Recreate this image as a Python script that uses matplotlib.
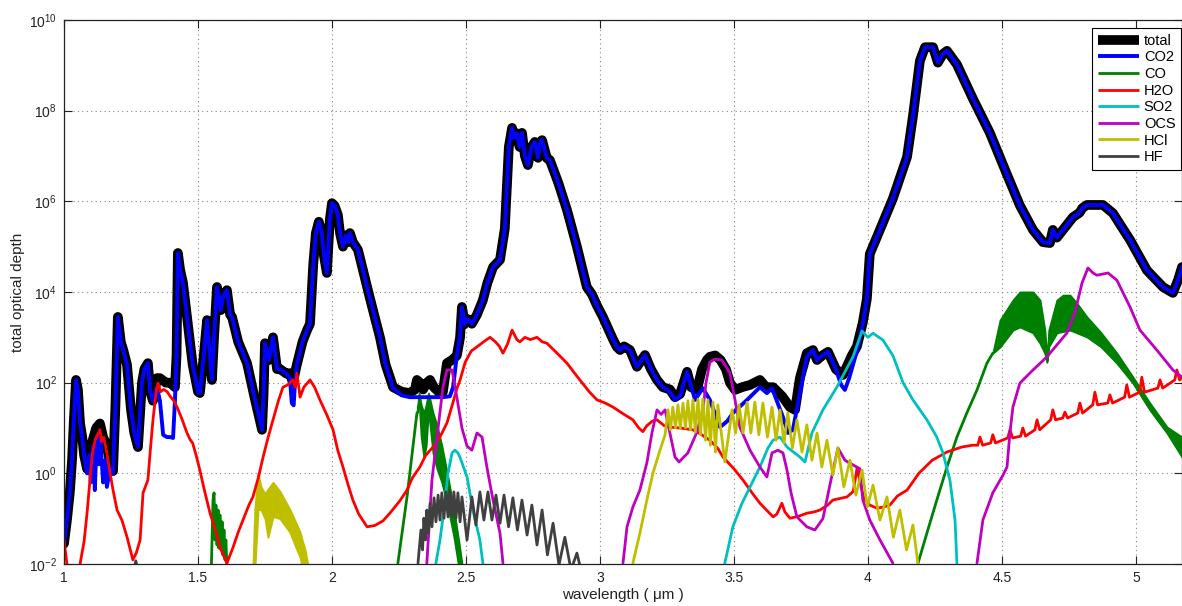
import numpy as np
import matplotlib
matplotlib.use("Agg")
import matplotlib.pyplot as plt
from matplotlib.ticker import FixedLocator, FuncFormatter, NullLocator

plt.rcParams['font.family'] = ['Liberation Sans', 'DejaVu Sans']
plt.rcParams['mathtext.fontset'] = 'custom'
plt.rcParams['mathtext.rm'] = 'Liberation Sans'
plt.rcParams['mathtext.it'] = 'Liberation Sans:italic'

nan = np.nan

# Each curve: rows of (wavelength [um], log10 of optical depth)
total_curve = np.array([
    (1.000, -1.55), (1.011, -1.03), (1.022, -0.40), (1.030, 0.29), (1.037, 1.20), (1.045, 2.06),
    (1.052, 1.84), (1.060, 1.10), (1.068, 0.80), (1.075, 0.40), (1.086, 0.10), (1.095, 0.50),
    (1.108, 0.75), (1.120, 1.00), (1.134, 1.10), (1.146, 0.80), (1.160, 0.60), (1.172, 0.20),
    (1.183, 0.05), (1.192, 1.50), (1.201, 3.45), (1.212, 2.90), (1.222, 2.70), (1.235, 2.40),
    (1.250, 1.40), (1.262, 0.90), (1.276, 0.58), (1.291, 2.00), (1.300, 2.30), (1.313, 2.43),
    (1.322, 1.80), (1.332, 1.60), (1.347, 2.10), (1.358, 2.10), (1.380, 2.00), (1.396, 2.00),
    (1.414, 1.90), (1.420, 2.60), (1.425, 4.86), (1.433, 4.50), (1.444, 4.20), (1.459, 3.45),
    (1.480, 2.40), (1.500, 1.80), (1.507, 1.77), (1.520, 2.50), (1.534, 3.38), (1.552, 2.06),
    (1.560, 3.00), (1.571, 4.11), (1.585, 3.60), (1.593, 3.90), (1.608, 4.04), (1.620, 3.50),
    (1.627, 3.45), (1.650, 2.90), (1.683, 2.43), (1.710, 1.70), (1.739, 0.96), (1.745, 1.80),
    (1.750, 2.87), (1.765, 2.50), (1.780, 3.00), (1.795, 2.30), (1.806, 2.30), (1.830, 2.20),
    (1.843, 2.21), (1.854, 2.00), (1.869, 2.40), (1.890, 2.90), (1.907, 3.16), (1.918, 3.30),
    (1.930, 4.60), (1.940, 5.30), (1.951, 5.55), (1.962, 5.30), (1.970, 4.80), (1.981, 4.42),
    (1.992, 5.60), (2.000, 5.96), (2.010, 5.90), (2.022, 5.70), (2.030, 5.30), (2.041, 5.00),
    (2.052, 5.25), (2.060, 5.10), (2.067, 5.30), (2.078, 5.10), (2.097, 4.93), (2.140, 3.90),
    (2.179, 3.00), (2.200, 2.40), (2.228, 1.90), (2.260, 1.80), (2.290, 1.77), (2.310, 1.85),
    (2.317, 2.06), (2.328, 2.00), (2.340, 1.85), (2.354, 2.00), (2.366, 2.06), (2.380, 1.90),
    (2.403, 1.77), (2.414, 1.80), (2.429, 2.43), (2.448, 2.50), (2.466, 2.60), (2.478, 3.00),
    (2.485, 3.67), (2.496, 3.30), (2.507, 3.40), (2.522, 3.30), (2.541, 3.50), (2.563, 3.82),
    (2.580, 4.20), (2.601, 4.55), (2.627, 4.71), (2.645, 5.40), (2.660, 7.20), (2.672, 7.62),
    (2.680, 7.40), (2.690, 7.50), (2.700, 7.20), (2.709, 7.51), (2.720, 7.00), (2.731, 6.80),
    (2.745, 7.20), (2.757, 7.31), (2.769, 6.96), (2.777, 7.30), (2.784, 7.35), (2.802, 6.95),
    (2.813, 6.91), (2.845, 6.40), (2.877, 5.81), (2.914, 5.00), (2.951, 4.11), (2.970, 3.95),
    (2.989, 3.70), (3.011, 3.45), (3.030, 3.20), (3.049, 2.95), (3.063, 2.79), (3.075, 2.72),
    (3.090, 2.80), (3.112, 2.72), (3.138, 2.35), (3.168, 2.61), (3.190, 2.30), (3.213, 2.06),
    (3.235, 1.90), (3.261, 1.85), (3.280, 1.68), (3.299, 1.75), (3.325, 2.24), (3.340, 1.90),
    (3.362, 1.84), (3.381, 2.30), (3.399, 2.50), (3.410, 2.57), (3.430, 2.60), (3.450, 2.50),
    (3.470, 2.30), (3.485, 2.00), (3.504, 1.84), (3.530, 1.90), (3.560, 1.95), (3.597, 2.06),
    (3.620, 1.90), (3.646, 1.90), (3.680, 1.70), (3.709, 1.46), (3.728, 1.40), (3.746, 2.10),
    (3.772, 2.65), (3.795, 2.72), (3.810, 2.50), (3.830, 2.60), (3.851, 2.68), (3.880, 2.30),
    (3.907, 2.17), (3.940, 2.60), (3.959, 2.80), (3.981, 3.33), (3.996, 3.85), (4.007, 4.84),
    (4.034, 5.22), (4.093, 6.06), (4.146, 6.98), (4.168, 7.88), (4.194, 9.10), (4.213, 9.40),
    (4.230, 9.40), (4.243, 9.40), (4.261, 9.06), (4.280, 9.25), (4.295, 9.32), (4.332, 9.02),
    (4.392, 8.26), (4.455, 7.51), (4.519, 6.59), (4.567, 5.91), (4.616, 5.37), (4.653, 5.10),
    (4.679, 5.08), (4.690, 5.37), (4.705, 5.20), (4.765, 5.65), (4.790, 5.75), (4.800, 5.85),
    (4.817, 5.92), (4.877, 5.92), (4.914, 5.74), (4.978, 5.15), (5.041, 4.48), (5.101, 4.11),
    (5.138, 3.98), (5.157, 4.26), (5.172, 4.55),
])

co2_curve = np.array([
    (1.000, -1.55), (1.011, -1.03), (1.022, -0.40), (1.030, 0.29), (1.037, 1.20), (1.045, 2.06),
    (1.052, 1.84), (1.060, 1.10), (1.068, 0.80), (1.075, 0.40), (1.086, 0.00), (1.095, 0.40),
    (1.100, -0.20), (1.108, 0.60), (1.115, -0.37), (1.122, 0.80), (1.130, 0.20), (1.134, 0.90),
    (1.146, -0.20), (1.155, 0.30), (1.160, -0.30), (1.172, 0.10), (1.183, 0.00), (1.192, 1.50),
    (1.201, 3.45), (1.212, 2.90), (1.222, 2.70), (1.235, 2.40), (1.250, 1.40), (1.262, 0.90),
    (1.276, 0.58), (1.291, 2.00), (1.300, 2.30), (1.313, 2.43), (1.322, 1.80), (1.332, 1.60),
    (1.347, 1.90), (1.358, 1.60), (1.370, 0.85), (1.384, 0.80), (1.396, 0.80), (1.407, 0.78),
    (1.414, 1.60), (1.420, 2.60), (1.425, 4.86), (1.433, 4.50), (1.444, 4.20), (1.459, 3.45),
    (1.480, 2.40), (1.500, 1.80), (1.507, 1.77), (1.520, 2.50), (1.534, 3.38), (1.552, 2.06),
    (1.560, 3.00), (1.571, 4.11), (1.585, 3.60), (1.593, 3.90), (1.608, 4.04), (1.620, 3.50),
    (1.627, 3.45), (1.650, 2.90), (1.683, 2.43), (1.710, 1.70), (1.739, 0.96), (1.745, 1.80),
    (1.750, 2.87), (1.765, 2.50), (1.780, 3.00), (1.795, 2.30), (1.806, 2.30), (1.830, 2.20),
    (1.843, 2.10), (1.850, 1.55), (1.857, 1.50), (1.862, 2.00), (1.869, 2.40), (1.890, 2.90),
    (1.907, 3.16), (1.918, 3.30), (1.930, 4.60), (1.940, 5.30), (1.951, 5.55), (1.962, 5.30),
    (1.970, 4.80), (1.981, 4.42), (1.992, 5.60), (2.000, 5.96), (2.010, 5.90), (2.022, 5.70),
    (2.030, 5.30), (2.041, 5.00), (2.052, 5.25), (2.060, 5.10), (2.067, 5.30), (2.078, 5.10),
    (2.097, 4.93), (2.140, 3.90), (2.179, 3.00), (2.200, 2.40), (2.228, 1.88), (2.260, 1.72),
    (2.290, 1.68), (2.330, 1.68), (2.380, 1.68), (2.414, 1.68), (2.440, 1.70), (2.452, 1.90),
    (2.466, 2.60), (2.478, 3.00), (2.485, 3.67), (2.496, 3.30), (2.507, 3.40), (2.522, 3.30),
    (2.541, 3.50), (2.563, 3.82), (2.580, 4.20), (2.601, 4.55), (2.627, 4.71), (2.645, 5.40),
    (2.660, 7.20), (2.672, 7.62), (2.680, 7.40), (2.690, 7.50), (2.700, 7.20), (2.709, 7.51),
    (2.720, 7.00), (2.731, 6.80), (2.745, 7.20), (2.757, 7.31), (2.769, 6.96), (2.777, 7.30),
    (2.784, 7.35), (2.802, 6.95), (2.813, 6.91), (2.845, 6.40), (2.877, 5.81), (2.914, 5.00),
    (2.951, 4.11), (2.970, 3.95), (2.989, 3.70), (3.011, 3.45), (3.030, 3.20), (3.049, 2.95),
    (3.063, 2.79), (3.075, 2.72), (3.090, 2.80), (3.112, 2.72), (3.138, 2.35), (3.168, 2.61),
    (3.190, 2.30), (3.213, 2.06), (3.235, 1.90), (3.261, 1.80), (3.280, 1.62), (3.299, 1.70),
    (3.325, 2.24), (3.355, 1.62), (3.384, 1.88), (3.410, 1.62), (3.448, 1.02), (3.475, 1.15),
    (3.496, 1.33), (3.549, 1.62), (3.597, 1.90), (3.623, 1.77), (3.642, 1.88), (3.683, 1.24),
    (3.702, 0.89), (3.720, 0.96), (3.746, 1.77), (3.772, 2.57), (3.795, 2.72), (3.810, 2.50),
    (3.830, 2.60), (3.851, 2.68), (3.880, 2.30), (3.900, 1.95), (3.914, 1.84), (3.930, 2.10),
    (3.959, 2.70), (3.981, 3.30), (3.996, 3.85), (4.007, 4.84), (4.034, 5.22), (4.093, 6.06),
    (4.146, 6.98), (4.168, 7.88), (4.194, 9.10), (4.213, 9.40), (4.230, 9.40), (4.243, 9.40),
    (4.261, 9.06), (4.280, 9.25), (4.295, 9.32), (4.332, 9.02), (4.392, 8.26), (4.455, 7.51),
    (4.519, 6.59), (4.567, 5.91), (4.616, 5.37), (4.653, 5.10), (4.679, 5.08), (4.690, 5.37),
    (4.705, 5.20), (4.765, 5.65), (4.790, 5.75), (4.800, 5.85), (4.817, 5.92), (4.877, 5.92),
    (4.914, 5.74), (4.978, 5.15), (5.041, 4.48), (5.101, 4.11), (5.138, 3.98), (5.157, 4.26),
    (5.172, 4.55),
])

# CO: isolated line segments plus two dense line-forest bands (wl, low, high)
co_curve = np.array([
    (1.550, -2.04), (1.556, -0.59), (1.560, -0.43), (1.563, -1.47), (1.567, -0.70), (1.571, -1.58),
    (1.575, -0.81), (1.578, -1.65), (1.582, -0.92), (1.586, -1.69), (1.590, -1.07), (1.593, -1.80),
    (1.597, -1.25), (1.601, -1.91), (1.604, -1.47), (1.608, -2.04), (nan, nan),
    (2.246, -1.98), (2.280, -0.52), (2.302, 0.58), (2.317, 1.33), (nan, nan),
    (4.187, -1.98), (4.220, -1.32), (4.257, -0.59), (4.295, 0.14), (4.332, 0.80), (4.369, 1.33),
    (4.407, 1.84), (4.444, 2.43), (4.466, 2.65),
])
co_band_23 = np.array([
    (2.317, 1.33, 1.33), (2.325, 1.60, 1.77), (2.333, 0.80, 1.50), (2.343, 0.36, 1.33),
    (2.351, 0.60, 1.50), (2.360, 1.40, 1.77), (2.377, 0.45, 1.33), (2.392, 0.10, 1.05),
    (2.410, -0.20, 0.60), (2.433, -0.75, -0.10), (2.455, -1.40, -0.81), (2.474, -2.10, -1.54),
    (2.485, -2.10, -2.00),
])
co_band_46 = np.array([
    (4.466, 2.65, 2.65), (4.493, 2.79, 3.38), (4.541, 3.16, 3.82), (4.567, 3.23, 4.00),
    (4.616, 3.10, 4.00), (4.642, 2.87, 3.82), (4.660, 2.65, 3.16), (4.668, 2.45, 2.50),
    (4.675, 2.80, 3.16), (4.705, 3.10, 3.82), (4.728, 3.13, 3.93), (4.754, 3.16, 3.93),
    (4.780, 3.10, 3.75), (4.817, 3.01, 3.45), (4.870, 2.79, 3.10), (4.929, 2.43, 2.65),
    (4.989, 1.99, 2.12), (5.052, 1.40, 1.55), (5.116, 0.89, 1.02), (5.172, 0.36, 0.80),
])

h2o_curve = np.array([
    (1.000, -1.47), (1.011, -2.00), (1.022, -2.60), (1.045, -2.60), (1.060, -2.00), (1.075, -1.50),
    (1.086, -0.88), (1.097, -0.15), (1.105, 0.40), (1.116, 0.73), (1.125, 0.85), (1.134, 0.96),
    (1.140, 0.70), (1.148, 0.80), (1.160, 0.45), (1.172, 0.00), (1.183, -0.37), (1.198, -0.81),
    (1.216, -1.03), (1.235, -1.40), (1.257, -1.91), (1.270, -1.75), (1.284, -1.47), (1.295, -0.43),
    (1.313, -0.15), (1.322, 0.50), (1.332, 1.18), (1.345, 1.85), (1.351, 1.99), (1.360, 1.80),
    (1.372, 1.85), (1.385, 1.80), (1.396, 1.70), (1.410, 1.60), (1.422, 1.46), (1.440, 1.20),
    (1.459, 0.89), (1.470, 0.75), (1.480, 0.67), (1.493, 0.40), (1.507, 0.07), (1.525, -0.40),
    (1.545, -0.88), (1.565, -1.25), (1.582, -1.63), (1.608, -1.98), (1.631, -1.63), (1.650, -1.30),
    (1.668, -1.03), (1.690, -0.70), (1.705, -0.52), (1.725, -0.10), (1.743, 0.36), (1.762, 0.80),
    (1.780, 1.18), (1.800, 1.60), (1.817, 1.90), (1.835, 1.95), (1.854, 2.06), (1.863, 1.90),
    (1.869, 2.21), (1.881, 1.68), (1.895, 1.90), (1.918, 2.06), (1.935, 1.90), (1.955, 1.62),
    (1.980, 1.30), (2.004, 0.96), (2.022, 0.50), (2.041, 0.14), (2.060, -0.25), (2.078, -0.59),
    (2.100, -0.90), (2.131, -1.18), (2.160, -1.15), (2.190, -1.05), (2.216, -0.88), (2.254, -0.60),
    (2.280, -0.37), (2.300, -0.10), (2.328, 0.14), (2.350, 0.40), (2.377, 0.58), (2.403, 0.80),
    (2.429, 1.11), (2.451, 1.55), (2.465, 1.85), (2.478, 2.06), (2.497, 2.45), (2.520, 2.70),
    (2.541, 2.79), (2.570, 2.92), (2.590, 3.00), (2.610, 2.90), (2.625, 2.80), (2.638, 2.65),
    (2.655, 2.85), (2.672, 3.16), (2.690, 2.95), (2.701, 2.90), (2.720, 3.00), (2.740, 2.95),
    (2.765, 3.00), (2.785, 2.90), (2.802, 2.87), (2.840, 2.65), (2.877, 2.43), (2.900, 2.25),
    (2.925, 2.06), (2.960, 1.80), (2.989, 1.62), (3.020, 1.55), (3.049, 1.46), (3.090, 1.30),
    (3.123, 1.18), (3.145, 1.00), (3.160, 0.92), (3.175, 1.05), (3.195, 1.15), (3.213, 1.18),
    (3.240, 1.05), (3.261, 1.02), (3.300, 1.00), (3.347, 0.96), (3.380, 0.85), (3.410, 0.73),
    (3.440, 0.55), (3.459, 0.36), (3.500, 0.10), (3.534, -0.15), (3.570, -0.45), (3.597, -0.66),
    (3.620, -0.80), (3.646, -0.96), (3.660, -0.90), (3.679, -0.66), (3.690, -0.85), (3.709, -0.99),
    (3.740, -0.95), (3.772, -0.88), (3.800, -0.85), (3.821, -0.81), (3.850, -0.70), (3.869, -0.59),
    (3.900, -0.55), (3.922, -0.52), (3.945, -0.40), (3.960, 0.13), (3.970, -0.20), (3.985, -0.55),
    (4.007, -0.70), (4.034, -0.77), (4.060, -0.74), (4.082, -0.70), (4.110, -0.50), (4.146, -0.37),
    (4.190, 0.00), (4.240, 0.29), (4.295, 0.47), (4.350, 0.58), (4.390, 0.62),
    (4.410, 0.62), (4.418, 0.80), (4.428, 0.62), (4.458, 0.67), (4.466, 0.85), (4.476, 0.67),
    (4.522, 0.78), (4.530, 0.96), (4.540, 0.78), (4.570, 0.82), (4.578, 1.00), (4.588, 0.82),
    (4.623, 0.96), (4.631, 1.18), (4.641, 0.96), (4.682, 1.18), (4.690, 1.40), (4.700, 1.18),
    (4.727, 1.22), (4.735, 1.35), (4.745, 1.22), (4.783, 1.33), (4.791, 1.55), (4.801, 1.33),
    (4.839, 1.51), (4.847, 1.79), (4.857, 1.51), (4.895, 1.55), (4.903, 1.73), (4.913, 1.55),
    (4.958, 1.68), (4.966, 1.95), (4.976, 1.68), (5.014, 1.79), (5.022, 2.12), (5.032, 1.79),
    (5.082, 1.88), (5.090, 2.06), (5.100, 1.88), (5.145, 2.06), (5.153, 2.28), (5.163, 2.06),
    (5.172, 2.12),
])

so2_curve = np.array([
    (2.388, -1.98), (2.403, -1.47), (2.418, -0.80), (2.433, 0.00), (2.448, 0.45), (2.459, 0.51),
    (2.470, 0.45), (2.478, 0.35), (2.504, -0.08), (2.526, -0.81), (2.552, -1.47), (2.563, -1.98),
    (nan, nan),
    (3.466, -1.98), (3.496, -1.18), (3.530, -0.66), (3.560, -0.30), (3.597, 0.14), (3.627, 0.56),
    (3.646, 0.73), (3.672, 0.80), (3.698, 0.58), (3.746, 0.36), (3.765, 0.25), (3.791, 0.89),
    (3.832, 1.40), (3.884, 1.90), (3.944, 2.57), (3.978, 3.14), (4.000, 3.00), (4.019, 3.09),
    (4.056, 2.94), (4.093, 2.60), (4.131, 2.00), (4.168, 1.62), (4.220, 1.18), (4.257, 0.80),
    (4.280, 0.45), (4.306, -0.15), (4.325, -1.03), (4.332, -1.98),
])

ocs_curve = np.array([
    (2.354, -1.98), (2.373, -0.15), (2.392, 0.80), (2.414, 1.90), (2.429, 2.28), (2.448, 2.28),
    (2.466, 1.68), (2.485, 1.00), (2.504, 0.60), (2.522, 0.51), (2.541, 0.89), (2.560, 0.80),
    (2.578, 0.14), (2.601, -0.59), (2.627, -1.32), (2.638, -1.98), (nan, nan),
    (3.086, -1.98), (3.101, -1.18), (3.123, -0.74), (3.149, -0.37), (3.175, 0.23), (3.194, 0.89),
    (3.213, 1.40), (3.228, 1.30), (3.243, 1.40), (3.261, 0.89), (3.280, 0.36), (3.295, 0.25),
    (3.328, 0.45), (3.362, 0.91), (3.384, 1.40), (3.396, 2.00), (3.410, 2.45), (3.429, 2.52),
    (3.455, 2.50), (3.485, 2.21), (3.504, 1.62), (3.522, 1.02), (3.560, 0.51), (3.597, 0.14),
    (3.623, -0.08), (3.642, 0.45), (3.664, 0.51), (3.683, 0.45), (3.698, 0.07), (3.713, -0.43),
    (3.735, -0.96), (3.772, -1.18), (3.802, -1.25), (3.832, -1.00), (3.858, -0.26), (3.888, 0.56),
    (3.914, 0.29), (3.940, 0.20), (3.970, 0.10), (3.981, -0.59), (4.007, -1.03), (4.045, -1.47),
    (4.093, -1.98), (nan, nan),
    (4.407, -1.98), (4.429, -1.03), (4.466, -0.43), (4.504, -0.04), (4.519, 0.14), (4.530, 0.90),
    (4.541, 1.46), (4.567, 1.99), (4.616, 2.28), (4.668, 2.57), (4.743, 3.10), (4.772, 3.54),
    (4.799, 4.20), (4.821, 4.53), (4.840, 4.42), (4.854, 4.37), (4.896, 4.42), (4.929, 4.26),
    (4.978, 3.67), (5.015, 3.16), (5.078, 2.72), (5.138, 2.28), (5.172, 2.12),
])

# HCl: unresolved 1.7 um overtone band (wl, low, high) and resolved 3.5 um fundamental lines
hcl_band_17 = np.array([
    (1.705, -2.10, -2.10), (1.712, -2.10, -0.80), (1.724, -0.80, 0.00), (1.735, -0.80, -0.30),
    (1.750, -1.00, -0.45), (1.761, -1.41, -0.35), (1.780, -0.95, -0.20), (1.806, -1.00, -0.40),
    (1.843, -1.30, -0.80), (1.870, -1.70, -1.15), (1.881, -1.85, -1.30), (1.890, -2.10, -1.50),
    (1.900, -2.10, -1.70), (1.912, -2.10, -2.10),
])
hcl_curve = np.array([
    (3.123, -1.98), (3.149, -1.32), (3.175, -0.59), (3.198, 0.01), (3.224, 0.51), (3.243, 0.85),
    (3.254, 1.40), (3.263, 0.96), (3.272, 1.46), (3.282, 1.00), (3.291, 1.51), (3.300, 1.00),
    (3.310, 1.55), (3.319, 1.00), (3.328, 1.60), (3.338, 0.96), (3.347, 1.62), (3.356, 0.91),
    (3.366, 1.64), (3.375, 0.85), (3.384, 1.64), (3.394, 0.73), (3.403, 1.62), (3.412, 0.62),
    (3.422, 1.57), (3.431, 0.47), (3.440, 1.51), (3.466, 0.25), (3.493, 1.40), (3.506, 0.89),
    (3.519, 1.51), (3.534, 0.89), (3.549, 1.57), (3.563, 0.89), (3.578, 1.57), (3.593, 0.85),
    (3.608, 1.55), (3.625, 0.80), (3.642, 1.46), (3.657, 0.73), (3.672, 1.40), (3.687, 0.67),
    (3.701, 1.33), (3.718, 0.56), (3.735, 1.18), (3.754, 0.47), (3.772, 1.07), (3.791, 0.29),
    (3.810, 0.89), (3.828, 0.14), (3.847, 0.73), (3.869, -0.04), (3.888, 0.56), (3.910, -0.30),
    (3.933, 0.29), (3.955, -0.48), (3.978, 0.07), (3.998, -0.74), (4.019, -0.26), (4.045, -1.03),
    (4.071, -0.52), (4.095, -1.41), (4.119, -0.81), (4.144, -1.69), (4.168, -1.14), (4.187, -2.02),
])

hf_curve = np.array([
    (1.262, -2.10), (1.268, -1.93), (1.274, -2.10), (nan, nan),
    (2.321, -1.98), (2.332, -1.25), (2.338, -1.69), (2.343, -0.99), (2.349, -1.47), (2.354, -0.81),
    (2.360, -1.32), (2.366, -0.66), (2.373, -1.18), (2.381, -0.54), (2.388, -1.07), (2.396, -0.48),
    (2.403, -1.03), (2.410, -0.43), (2.418, -0.99), (2.425, -0.41), (2.433, -0.96), (2.440, -0.39),
    (2.448, -0.96), (2.455, -0.41), (2.463, -0.99), (2.470, -0.43), (2.478, -1.07), (2.485, -0.52),
    (2.504, -1.47), (2.522, -0.52), (2.537, -1.14), (2.552, -0.41), (2.567, -1.03), (2.582, -0.41),
    (2.597, -1.03), (2.612, -0.48), (2.627, -1.10), (2.642, -0.48), (2.659, -1.18), (2.675, -0.54),
    (2.692, -1.25), (2.709, -0.59), (2.728, -1.36), (2.746, -0.70), (2.765, -1.58), (2.784, -0.81),
    (2.804, -1.80), (2.825, -1.10), (2.847, -2.02), (2.869, -1.41), (2.892, -2.13), (2.914, -1.76),
    (2.929, -2.13),
])

x_ticks = [1, 1.5, 2, 2.5, 3, 3.5, 4, 4.5, 5]
x_tick_labels = ['1', '1.5', '2', '2.5', '3', '3.5', '4', '4.5', '5']
y_ticks = [1e-2, 1e0, 1e2, 1e4, 1e6, 1e8, 1e10]

C_CO2 = (0.0, 0.0, 1.0)
C_CO = (0.0, 0.5, 0.0)
C_H2O = (1.0, 0.0, 0.0)
C_SO2 = (0.0, 0.75, 0.75)
C_OCS = (0.75, 0.0, 0.75)
C_HCL = (0.75, 0.75, 0.0)
C_HF = (0.25, 0.25, 0.25)

W, H = 1182, 606
fig = plt.figure(figsize=(W / 100, H / 100), dpi=100)
ax = fig.add_axes([64 / W, 42 / H, 1 - 64 / W, 544 / H])
ax.set_yscale('log')


def draw(curve, **kw):
    return ax.plot(curve[:, 0], 10.0 ** curve[:, 1], solid_joinstyle='round',
                   solid_capstyle='round', **kw)[0]


def band(b, color):
    ax.fill_between(b[:, 0], 10.0 ** b[:, 1], 10.0 ** b[:, 2], color=color,
                    linewidth=1.4, edgecolor=color)


h_total = draw(total_curve, color='k', lw=7.0, label='total')
h_co2 = draw(co2_curve, color=C_CO2, lw=2.8, label='CO2')
h_co = draw(co_curve, color=C_CO, lw=2.0, label='CO')
band(co_band_23, C_CO)
band(co_band_46, C_CO)
h_h2o = draw(h2o_curve, color=C_H2O, lw=2.0, label='H2O')
h_so2 = draw(so2_curve, color=C_SO2, lw=2.0, label='SO2')
h_ocs = draw(ocs_curve, color=C_OCS, lw=2.0, label='OCS')
h_hcl = draw(hcl_curve, color=C_HCL, lw=2.0, label='HCl')
band(hcl_band_17, C_HCL)
h_hf = draw(hf_curve, color=C_HF, lw=2.0, label='HF')

ax.set_xlim(1.0, 5.172)
ax.set_ylim(1e-2, 1e10)
ax.xaxis.set_major_locator(FixedLocator(x_ticks))
ax.set_xticklabels(x_tick_labels)
ax.yaxis.set_major_locator(FixedLocator(y_ticks))
ax.yaxis.set_minor_locator(NullLocator())
ax.yaxis.set_major_formatter(FuncFormatter(lambda v, p: r'$10^{%d}$' % round(np.log10(v))))

ax.set_axisbelow(True)
ax.grid(True, which='major', linestyle=(0, (1, 3)), color='#888888', linewidth=0.8)
ax.tick_params(direction='in', top=True, right=True, length=6, width=0.8,
               labelsize=10, colors='#222222', pad=5)
for s in ax.spines.values():
    s.set_linewidth(0.9)
    s.set_color('#222222')

ax.set_xlabel('wavelength ( \u03bcm )', fontsize=11, labelpad=2, color='#222222')
ax.set_ylabel('total optical depth', fontsize=11, labelpad=3, color='#222222')

# legend box: left edge at x = 1092 px, top edge at y = 28 px
leg_x = (1092 - 64) / (W - 64)
leg_y = (564 - 28) / 544
leg = ax.legend(handles=[h_total, h_co2, h_co, h_h2o, h_so2, h_ocs, h_hcl, h_hf],
                loc='upper left', bbox_to_anchor=(leg_x, leg_y), fontsize=10.5,
                frameon=True, fancybox=False, framealpha=1, edgecolor='k',
                borderpad=0.4, labelspacing=0.18, handlelength=2.8, handletextpad=0.35,
                borderaxespad=0.0)
leg.get_frame().set_linewidth(0.8)
for line in leg.get_lines():
    line.set_solid_capstyle('butt')

fig.savefig('out.png', dpi=100)
